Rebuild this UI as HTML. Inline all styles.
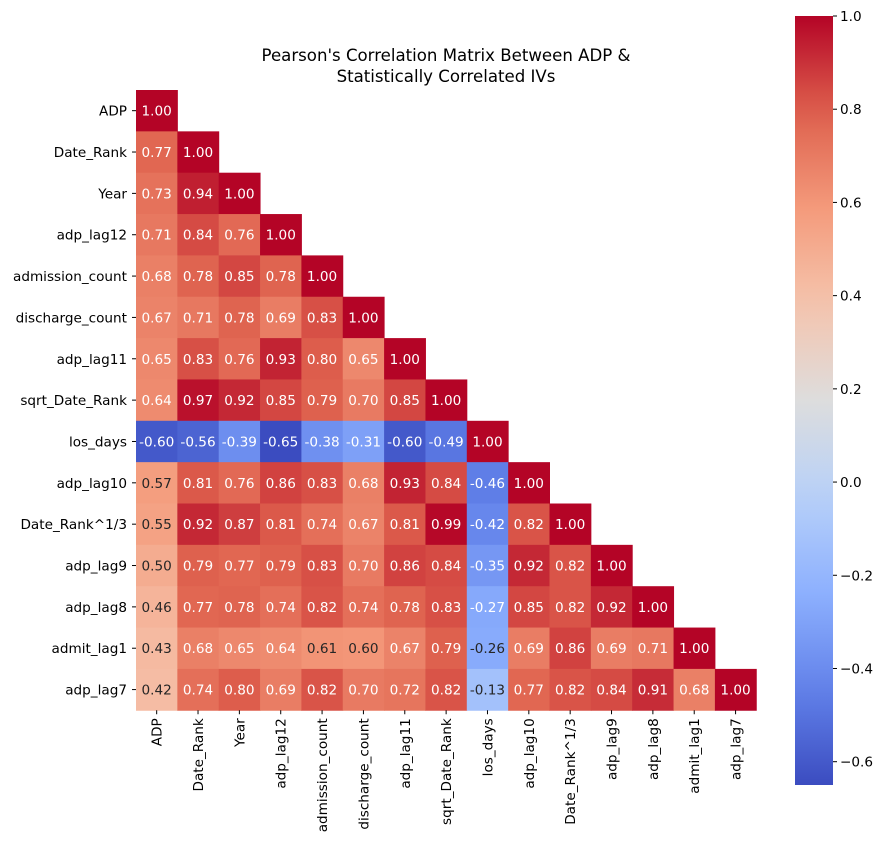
<!DOCTYPE html>
<html><head><meta charset="utf-8"><style>
body{margin:0;background:#fff;font-family:"DejaVu Sans","Liberation Sans",sans-serif}
</style></head><body>
<svg id="chart" width="886" height="846" xmlns="http://www.w3.org/2000/svg" font-family="DejaVu Sans, Liberation Sans, sans-serif">
<defs><linearGradient id="cbgrad" x1="0" y1="1" x2="0" y2="0"></linearGradient></defs>
<text x="446" y="61" font-size="16.6" text-anchor="middle">Pearson's Correlation Matrix Between ADP &amp;</text>
<text x="446" y="82" font-size="16.6" text-anchor="middle">Statistically Correlated IVs</text>
<g id="cells"></g><g id="ylabels"></g><g id="xlabels"></g><g id="cbar"></g>
</svg>
<script>
const labels=["ADP","Date_Rank","Year","adp_lag12","admission_count","discharge_count","adp_lag11","sqrt_Date_Rank","los_days","adp_lag10","Date_Rank^1/3","adp_lag9","adp_lag8","admit_lag1","adp_lag7"];
const row0=[1.00];
const row1=[0.77,1.00];
const row2=[0.73,0.94,1.00];
const row3=[0.71,0.84,0.76,1.00];
const row4=[0.68,0.78,0.85,0.78,1.00];
const row5=[0.67,0.71,0.78,0.69,0.83,1.00];
const row6=[0.65,0.83,0.76,0.93,0.80,0.65,1.00];
const row7=[0.64,0.97,0.92,0.85,0.79,0.70,0.85,1.00];
const row8=[-0.60,-0.56,-0.39,-0.65,-0.38,-0.31,-0.60,-0.49,1.00];
const row9=[0.57,0.81,0.76,0.86,0.83,0.68,0.93,0.84,-0.46,1.00];
const row10=[0.55,0.92,0.87,0.81,0.74,0.67,0.81,0.99,-0.42,0.82,1.00];
const row11=[0.50,0.79,0.77,0.79,0.83,0.70,0.86,0.84,-0.35,0.92,0.82,1.00];
const row12=[0.46,0.77,0.78,0.74,0.82,0.74,0.78,0.83,-0.27,0.85,0.82,0.92,1.00];
const row13=[0.43,0.68,0.65,0.64,0.61,0.60,0.67,0.79,-0.26,0.69,0.86,0.69,0.71,1.00];
const row14=[0.42,0.74,0.80,0.69,0.82,0.70,0.72,0.82,-0.13,0.77,0.82,0.84,0.91,0.68,1.00];
const matrix=[row0,row1,row2,row3,row4,row5,row6,row7,row8,row9,row10,row11,row12,row13,row14];
const cbTicks=[1.0,0.8,0.6,0.4,0.2,0.0,-0.2,-0.4,-0.6];
const vmin=-0.65,vmax=1.0;
const NS="http://www.w3.org/2000/svg";
const L=136,T=90,S=41.35;
const stops=[[59,76,192],[98,130,234],[141,176,254],[184,208,249],[221,221,221],[245,196,173],[244,154,123],[222,96,77],[180,4,38]];
function cmap(v){let t=(v-vmin)/(vmax-vmin);t=Math.max(0,Math.min(1,t));const p=t*8,i=Math.min(7,Math.floor(p)),f=p-i;const a=stops[i],b=stops[i+1];return [0,1,2].map(k=>Math.round(a[k]+(b[k]-a[k])*f));}
function lin(c){c/=255;return c<=0.03928?c/12.92:Math.pow((c+0.055)/1.055,2.4);}
function el(tag,attrs,parent){const e=document.createElementNS(NS,tag);for(const k in attrs)e.setAttribute(k,attrs[k]);parent.appendChild(e);return e;}
const cells=document.getElementById('cells');
matrix.forEach((row,r)=>row.forEach((v,c)=>{
 const col=cmap(v);
 const rect=el('rect',{x:L+c*S,y:T+r*S,width:S+0.5,height:S+0.5,fill:`rgb(${col})`},cells);
 
 
 const lum=0.2126*lin(col[0])+0.7152*lin(col[1])+0.0722*lin(col[2]);
 const tx=el('text',{x:L+c*S+S/2,y:T+r*S+S/2+5,'font-size':13.6,'text-anchor':'middle',fill:lum>0.408?'#262626':'#fff'},cells);
 
 
 tx.textContent=v.toFixed(2);
}));
const yl=document.getElementById('ylabels'),xl=document.getElementById('xlabels');
labels.forEach((lab,i)=>{
 const y=T+i*S+S/2;
 el('line',{x1:L-4,x2:L,y1:y,y2:y,stroke:'#000'},yl);
 const t=el('text',{x:L-9,y:y+5,'font-size':13.6,'text-anchor':'end'},yl);
 
 
 t.textContent=lab;
 const x=L+i*S+S/2,yb=T+15*S;
 el('line',{x1:x,x2:x,y1:yb,y2:yb+4,stroke:'#000'},xl);
 const t2=el('text',{x:x+5,y:yb+8,'font-size':13.6,'text-anchor':'end',transform:`rotate(-90 ${x+5} ${yb+8})`},xl);
 
 
 t2.textContent=lab;
});
const grad=document.getElementById('cbgrad');
for(let i=0;i<=20;i++){const v=vmin+(vmax-vmin)*i/20;el('stop',{offset:i/20,'stop-color':`rgb(${cmap(v)})`},grad);}
const cb=document.getElementById('cbar');
const cbX=795,cbW=38,cbTop=16,cbBot=785;
const cy=v=>cbBot-(v-vmin)/(vmax-vmin)*(cbBot-cbTop);
const cr=el('rect',{x:cbX,y:cbTop,width:cbW,height:cbBot-cbTop,fill:'url(#cbgrad)'},cb);


cbTicks.forEach(v=>{
 const y=cy(v);
 el('line',{x1:cbX+cbW,x2:cbX+cbW+4,y1:y,y2:y,stroke:'#000'},cb);
 const t=el('text',{x:cbX+cbW+7,y:y+5,'font-size':13.6},cb);
 
 
 t.textContent=(v<0?'\u2212':'')+Math.abs(v).toFixed(1);
});
</script>
</body></html>
